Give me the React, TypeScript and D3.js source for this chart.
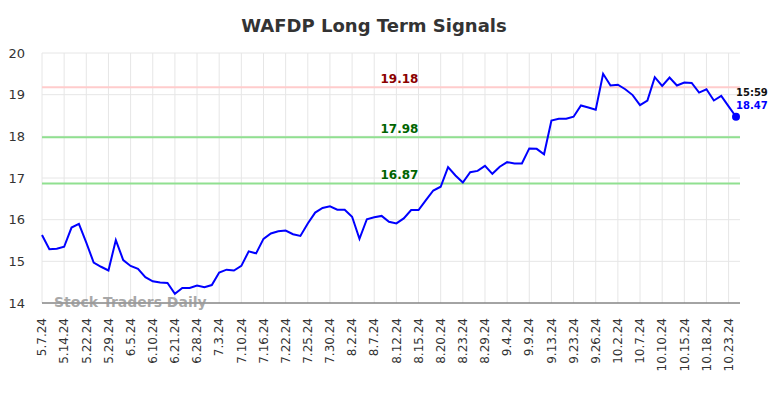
import React, { useEffect, useRef } from 'react';
import * as d3 from 'd3';

const tickLabels = [
  '5.7.24', '5.14.24', '5.22.24', '5.29.24', '6.5.24', '6.10.24', '6.21.24', '6.28.24',
  '7.3.24', '7.10.24', '7.16.24', '7.22.24', '7.25.24', '7.30.24', '8.2.24', '8.7.24',
  '8.12.24', '8.15.24', '8.20.24', '8.23.24', '8.29.24', '9.4.24', '9.9.24', '9.13.24',
  '9.23.24', '9.26.24', '10.2.24', '10.7.24', '10.10.24', '10.15.24', '10.18.24', '10.23.24',
];

const prices = [
  15.63, 15.29, 15.30, 15.35, 15.81, 15.90, 15.45, 14.97, 14.87, 14.78,
  15.51, 15.03, 14.89, 14.82, 14.62, 14.52, 14.49, 14.48, 14.22, 14.36,
  14.36, 14.42, 14.38, 14.43, 14.73, 14.80, 14.78, 14.89, 15.24, 15.19,
  15.54, 15.67, 15.72, 15.74, 15.65, 15.61, 15.91, 16.17, 16.28, 16.32,
  16.24, 16.24, 16.07, 15.54, 16.01, 16.06, 16.09, 15.95, 15.91, 16.03,
  16.23, 16.23, 16.47, 16.70, 16.79, 17.26, 17.06, 16.89, 17.14, 17.17,
  17.29, 17.10, 17.27, 17.38, 17.35, 17.35, 17.71, 17.70, 17.57, 18.38,
  18.42, 18.42, 18.47, 18.74, 18.69, 18.64, 19.50, 19.22, 19.24, 19.13,
  18.99, 18.75, 18.86, 19.42, 19.21, 19.41, 19.22, 19.29, 19.28, 19.05,
  19.13, 18.86, 18.97, 18.72, 18.47,
];

const yTicks = [14, 15, 16, 17, 18, 19, 20];

const signals = [
  { value: 19.18, line: '#ffcccc', text: '#8b0000' },
  { value: 17.98, line: '#90e090', text: '#006400' },
  { value: 16.87, line: '#90e090', text: '#006400' },
];

const lastTime = '15:59';

const App = () => {
  const svgRef = useRef<SVGSVGElement>(null);

  useEffect(() => {
    const width = 784;
    const height = 398;
    const left = 42;
    const right = 740;
    const top = 53;
    const bottom = 303;

    const svg = d3.select(svgRef.current)
      .attr('width', width)
      .attr('height', height);
    svg.selectAll('*').remove();

    const x = d3.scaleLinear().domain([0, prices.length - 1]).range([left, 736]);
    const y = d3.scaleLinear().domain([14, 20]).range([bottom, top]);

    // grid
    svg.append('g')
      .selectAll('line')
      .data(yTicks)
      .enter()
      .append('line')
      .attr('x1', left)
      .attr('x2', right)
      .attr('y1', d => y(d))
      .attr('y2', d => y(d))
      .attr('stroke', '#e6e6e6')
      .attr('stroke-width', 1);

    svg.append('g')
      .selectAll('line')
      .data(tickLabels)
      .enter()
      .append('line')
      .attr('x1', (d, i) => x(i * 3))
      .attr('x2', (d, i) => x(i * 3))
      .attr('y1', top)
      .attr('y2', bottom)
      .attr('stroke', '#e6e6e6')
      .attr('stroke-width', 1);

    // signal lines
    signals.forEach(s => {
      svg.append('line')
        .attr('x1', left)
        .attr('x2', right)
        .attr('y1', y(s.value))
        .attr('y2', y(s.value))
        .attr('stroke', s.line)
        .attr('stroke-width', 2);
      svg.append('text')
        .attr('x', 399.5)
        .attr('y', y(s.value) - 4)
        .attr('text-anchor', 'middle')
        .attr('fill', s.text)
        .style('font', 'bold 12px "DejaVu Sans", sans-serif')
        .text(s.value.toFixed(2));
    });

    // bottom axis line
    svg.append('line')
      .attr('x1', left)
      .attr('x2', right)
      .attr('y1', bottom)
      .attr('y2', bottom)
      .attr('stroke', '#555')
      .attr('stroke-width', 1);

    // y labels
    svg.append('g')
      .selectAll('text')
      .data(yTicks)
      .enter()
      .append('text')
      .attr('x', 25)
      .attr('y', d => y(d))
      .attr('dy', '0.35em')
      .attr('text-anchor', 'end')
      .attr('fill', '#333')
      .style('font', '13px "DejaVu Sans", sans-serif')
      .text(d => d);

    // x labels
    svg.append('g')
      .selectAll('text')
      .data(tickLabels)
      .enter()
      .append('text')
      .attr('transform', (d, i) => `translate(${x(i * 3)},318) rotate(-90)`)
      .attr('dy', '0.35em')
      .attr('text-anchor', 'end')
      .attr('fill', '#333')
      .style('font', '12px "DejaVu Sans", sans-serif')
      .text(d => d);

    // watermark
    svg.append('text')
      .attr('x', 54)
      .attr('y', 307)
      .attr('fill', '#999')
      .attr('fill-opacity', 0.85)
      .style('font', 'bold 14px "DejaVu Sans", sans-serif')
      .text('Stock Traders Daily');

    // price line
    const line = d3.line<number>()
      .x((d, i) => x(i))
      .y(d => y(d));

    svg.append('path')
      .datum(prices)
      .attr('d', line)
      .attr('fill', 'none')
      .attr('stroke', '#0000ff')
      .attr('stroke-width', 2);

    const lastIdx = prices.length - 1;
    const lastVal = prices[lastIdx];
    svg.append('circle')
      .attr('cx', x(lastIdx))
      .attr('cy', y(lastVal))
      .attr('r', 4)
      .attr('fill', '#0000ff');

    svg.append('text')
      .attr('x', x(lastIdx))
      .attr('y', y(lastVal) - 21)
      .attr('fill', '#111')
      .style('font', 'bold 10px "DejaVu Sans", sans-serif')
      .text(lastTime);
    svg.append('text')
      .attr('x', x(lastIdx))
      .attr('y', y(lastVal) - 8)
      .attr('fill', '#0000ff')
      .style('font', 'bold 10px "DejaVu Sans", sans-serif')
      .text(lastVal.toFixed(2));

    // title
    svg.append('text')
      .attr('x', 374)
      .attr('y', 32)
      .attr('text-anchor', 'middle')
      .attr('fill', '#333')
      .style('font', 'bold 18px "DejaVu Sans", sans-serif')
      .text('WAFDP Long Term Signals');
  }, []);

  return (
    <svg ref={svgRef} style={{ position: 'absolute', left: 0, top: 0 }}></svg>
  );
};

export default App;
